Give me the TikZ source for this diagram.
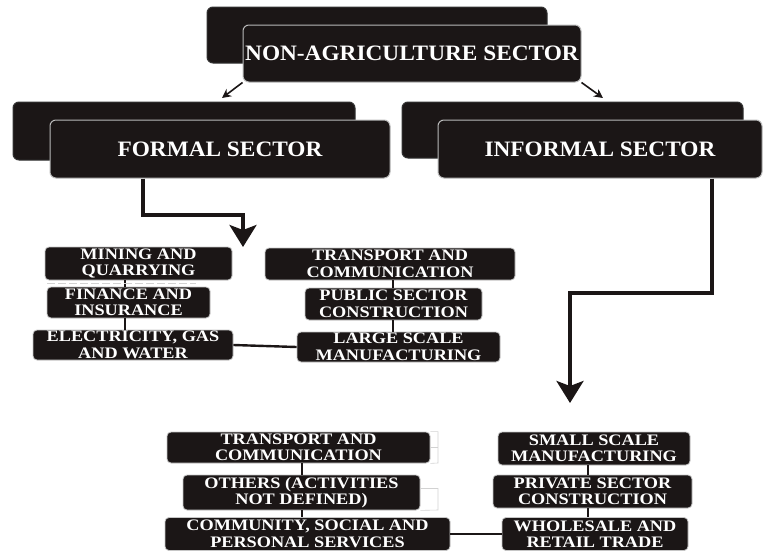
\documentclass[tikz,border=0pt]{standalone}
\usepackage{fontspec}
\setmainfont{Liberation Serif}
\newfontface\sectfont[FakeStretch=1.06]{Liberation Serif Bold}
\newfontface\itemfont[FakeStretch=1.14]{Liberation Serif Bold}
\usetikzlibrary{arrows.meta}
\definecolor{boxfill}{HTML}{1B1616}
\tikzset{
  sect/.style={fill=boxfill,draw=gray!55,line width=1pt,rounded corners=6pt,
    text=white,font=\sectfont\fontsize{22}{24}\selectfont,inner sep=0pt},
  sectback/.style={sect,draw=black!80},
  item/.style={fill=boxfill,draw=gray!45,line width=0.8pt,rounded corners=4pt,
    text=white,font=\itemfont\fontsize{16}{16.5}\selectfont,align=center,inner sep=0pt},
  link/.style={line width=2.4pt,draw=boxfill},
  flow/.style={line width=3.6pt,draw=boxfill,-{Stealth[length=22pt,width=27pt,inset=5pt]}},
  split/.style={line width=1.6pt,draw=boxfill,-{Stealth[length=9pt,width=9pt]}}
}
\begin{document}
\begin{tikzpicture}[x=1pt,y=-1pt]
\useasboundingbox (0,0) rectangle (766,552);
\node[sectback,minimum width=340pt,minimum height=56pt] (topback) at (377,35) {};
\node[sect,minimum width=338pt,minimum height=57pt] (nonagri) at (412,53.5) {NON-AGRICULTURE SECTOR};
\node[sectback,minimum width=342pt,minimum height=58pt] (formback) at (184,131) {};
\node[sect,minimum width=340pt,minimum height=58pt] (formal) at (220,149) {FORMAL SECTOR};
\node[sectback,minimum width=341pt,minimum height=56pt] (infback) at (572.5,130) {};
\node[sect,minimum width=324pt,minimum height=58pt] (informal) at (600,149) {INFORMAL SECTOR};
\coordinate (fsplit) at (222,98);
\coordinate (isplit) at (603,98);
\draw[split] (nonagri.south west) -- (fsplit);
\draw[split] (nonagri.south east) -- (isplit);
% formal sector activities
\node[item,minimum width=187pt,minimum height=33pt] (mining) at (138.5,263.5) {MINING AND\\QUARRYING};
\node[item,minimum width=163pt,minimum height=31pt] (finance) at (128.5,302.5) {FINANCE AND\\INSURANCE};
\node[item,minimum width=200pt,minimum height=30pt] (elec) at (133,345) {ELECTRICITY, GAS\\AND WATER};
\node[item,minimum width=250pt,minimum height=32pt] (transf) at (390,264) {TRANSPORT AND\\COMMUNICATION};
\node[item,minimum width=177pt,minimum height=32pt] (public) at (393.5,304) {PUBLIC SECTOR\\CONSTRUCTION};
\node[item,minimum width=203pt,minimum height=30pt] (large) at (398.5,347) {LARGE SCALE\\MANUFACTURING};
\draw[link] (mining.south -| 125,0) -- (finance.north -| 125,0);
\draw[link] (finance.south -| 125,0) -- (elec.north -| 125,0);
\draw[link] (transf.south -| 393,0) -- (public.north -| 393,0);
\draw[link] (public.south -| 393,0) -- (large.north -| 393,0);
\draw[link] (elec.east) -- (large.west);
\draw[gray!35,line width=0.7pt,dash pattern=on 8pt off 3pt] (47,283) -- (196,283);
\coordinate (fdown) at (243,247);
\draw[flow] (formal.south -| 143,0) |- (243,215) -- (fdown);
% informal sector activities
\node[item,minimum width=263pt,minimum height=31pt] (transi) at (298.5,447.5) {TRANSPORT AND\\COMMUNICATION};
\node[item,minimum width=237pt,minimum height=35pt] (others) at (301.5,492.5) {OTHERS (ACTIVITIES\\NOT DEFINED)};
\node[item,minimum width=285pt,minimum height=33pt] (social) at (307.5,534) {COMMUNITY, SOCIAL AND\\PERSONAL SERVICES};
\node[item,minimum width=192pt,minimum height=33pt] (small) at (594,448.5) {SMALL SCALE\\MANUFACTURING};
\node[item,minimum width=199pt,minimum height=33pt] (private) at (592.5,491.5) {PRIVATE SECTOR\\CONSTRUCTION};
\node[item,minimum width=186pt,minimum height=33pt] (trade) at (595,534) {WHOLESALE AND\\RETAIL TRADE};
\draw[link] (transi.south -| 302,0) -- (others.north -| 302,0);
\draw[link] (others.south -| 302,0) -- (social.north -| 302,0);
\draw[link] (small.south -| 588,0) -- (private.north -| 588,0);
\draw[link] (private.south -| 588,0) -- (trade.north -| 588,0);
\draw[link] (social.east) -- (trade.west);
\draw[gray!35,line width=0.6pt] (transi.north east) -| (438,463) -- (transi.south east) (transi.east) -- (438,447.5);
\draw[gray!35,line width=0.6pt] (others.east) ++(0,-4) -- (438,488.5) -- (438,510) -- (others.south east);
\coordinate (idown) at (570,403);
\draw[flow] (informal.south -| 712,0) |- (570,293) -- (idown);
\end{tikzpicture}
\end{document}
